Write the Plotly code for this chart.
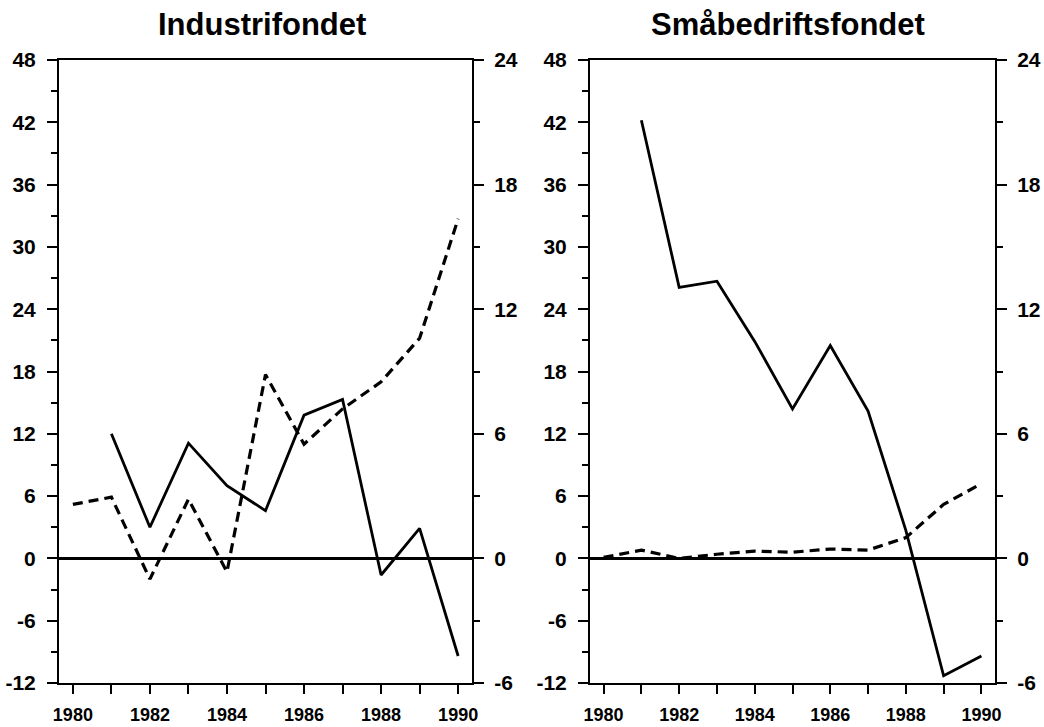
import plotly.graph_objects as go

years = list(range(1980, 1991))

# Industrifondet
ind_solid = [None, 12.0, 3.0, 11.1, 7.0, 4.6, 13.8, 15.3, -1.6, 2.9, -9.4]
ind_dashed = [2.6, 2.95, -1.0, 2.85, -0.65, 8.85, 5.5, 7.2, 8.5, 10.6, 16.35]  # right axis

# Småbedriftsfondet
sma_solid = [None, 42.2, 26.1, 26.7, 20.9, 14.4, 20.5, 14.2, 2.7, -11.3, -9.4]
sma_dashed = [0.05, 0.4, 0.0, 0.2, 0.35, 0.3, 0.45, 0.4, 1.0, 2.6, 3.6]  # right axis

titles = ["Industrifondet", "Småbedriftsfondet"]

# tick labels (plain hyphen, as in the original)
left_ticks = [-12, -6, 0, 6, 12, 18, 24, 30, 36, 42, 48]
left_labels = ["-12", "-6", "0", "6", "12", "18", "24", "30", "36", "42", "48"]
right_ticks = [-6, 0, 6, 12, 18, 24]
right_labels = ["-6", "0", "6", "12", "18", "24"]
year_ticks = [1980, 1982, 1984, 1986, 1988, 1990]
year_labels = ["1980", "1982", "1984", "1986", "1988", "1990"]

FONT = "Liberation Sans"
fig = go.Figure()

panels = [
    (ind_solid, ind_dashed, "x", "y", "y2"),
    (sma_solid, sma_dashed, "x2", "y3", "y4"),
]
for solid, dashed, xa, ya, ya2 in panels:
    fig.add_trace(go.Scatter(x=years, y=solid, xaxis=xa, yaxis=ya, mode="lines",
                             line=dict(color="black", width=2.8), connectgaps=False,
                             showlegend=False))
    fig.add_trace(go.Scatter(x=years, y=dashed, xaxis=xa, yaxis=ya2, mode="lines",
                             line=dict(color="black", width=3.2, dash="10px,6px"),
                             showlegend=False))

W, H = 1044, 727
top, bottom = 60, 683
ydom = [1 - bottom / H, 1 - top / H]

def xax(domain, anchor):
    return dict(domain=domain, anchor=anchor, range=[1979.64, 1990.36], automargin=False,
                tickvals=year_ticks, ticktext=year_labels, ticks="outside", ticklen=9,
                tickwidth=2, tickcolor="black", ticklabelstandoff=5,
                minor=dict(tickvals=list(range(1981, 1991, 2)), ticks="outside",
                           ticklen=9, tickwidth=2, tickcolor="black"),
                showline=True, linewidth=2, linecolor="black", mirror=True,
                showgrid=False, zeroline=False,
                tickfont=dict(family=FONT, size=18, color="black", weight="bold"))

def yleft(anchor):
    return dict(domain=ydom, anchor=anchor, range=[-12, 48], automargin=False,
                tickvals=left_ticks, ticktext=left_labels,
                ticks="outside", ticklen=10, tickwidth=2, tickcolor="black",
                ticklabelstandoff=7,
                minor=dict(dtick=3, tick0=0, ticks="outside", ticklen=6, tickwidth=2,
                           tickcolor="black"),
                showline=True, linewidth=2, linecolor="black", showgrid=False,
                zeroline=True, zerolinewidth=2.5, zerolinecolor="black",
                tickfont=dict(family=FONT, size=21, color="black", weight="bold"))

def yright(anchor, over):
    return dict(domain=ydom, anchor=anchor, overlaying=over, side="right",
                range=[-6, 24], automargin=False,
                tickvals=right_ticks, ticktext=right_labels,
                ticks="outside", ticklen=10, tickwidth=2, tickcolor="black",
                ticklabelstandoff=6,
                minor=dict(dtick=3, tick0=0, ticks="outside", ticklen=6, tickwidth=2,
                           tickcolor="black"),
                showline=True, linewidth=2, linecolor="black", showgrid=False,
                zeroline=False,
                tickfont=dict(family=FONT, size=21, color="black", weight="bold"))

fig.update_layout(
    width=W, height=H,
    margin=dict(l=0, r=0, t=0, b=0),
    paper_bgcolor="white", plot_bgcolor="white",
    xaxis=xax([59 / W, 472 / W], "y"),
    xaxis2=xax([590 / W, 995 / W], "y3"),
    yaxis=yleft("x"),
    yaxis2=yright("x", "y"),
    yaxis3=yleft("x2"),
    yaxis4=yright("x2", "y3"),
)

for text, cx in zip(titles, [262 / W, 788 / W]):
    fig.add_annotation(text=text, x=cx, y=1 - 24 / H, xref="paper", yref="paper",
                       showarrow=False, xanchor="center", yanchor="middle",
                       font=dict(family=FONT, size=31, color="black", weight="bold"))

# page body has an 8px default margin; drop it so the figure sits at 0,0
fig.write_html("out.html", config={"displayModeBar": False},
               post_script="document.body.style.margin='0';")
